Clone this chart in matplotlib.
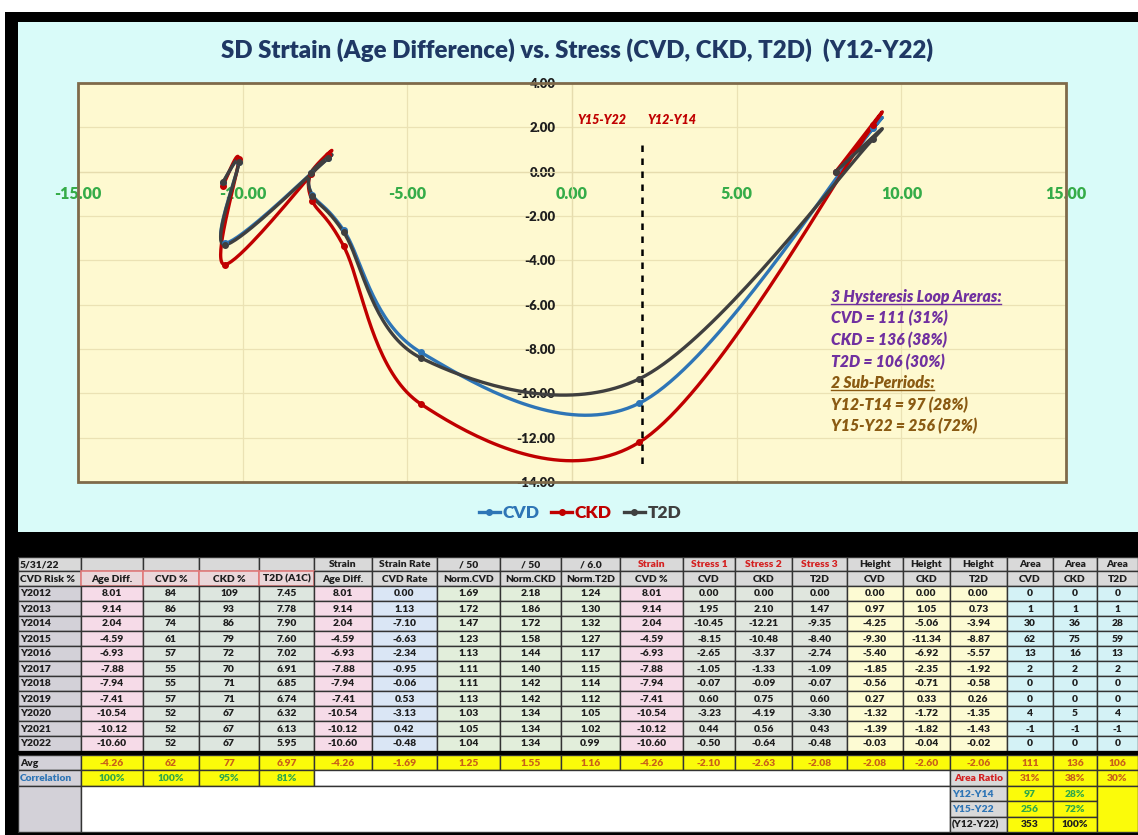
import numpy as np
import matplotlib
matplotlib.use("Agg")
import matplotlib.pyplot as plt
from matplotlib.patches import Rectangle
from matplotlib.lines import Line2D
from matplotlib.ticker import FormatStrFormatter

# ---------------- data ----------------
years = ['Y2012', 'Y2013', 'Y2014', 'Y2015', 'Y2016', 'Y2017',
         'Y2018', 'Y2019', 'Y2020', 'Y2021', 'Y2022']
age_diff = [8.01, 9.14, 2.04, -4.59, -6.93, -7.88, -7.94, -7.41, -10.54, -10.12, -10.60]
cvd_pct = [84, 86, 74, 61, 57, 55, 55, 57, 52, 52, 52]
ckd_pct = [109, 93, 86, 79, 72, 70, 71, 71, 67, 67, 67]
t2d_a1c = [7.45, 7.78, 7.90, 7.60, 7.02, 6.91, 6.85, 6.74, 6.32, 6.13, 5.95]
strain_rate = [0.00, 1.13, -7.10, -6.63, -2.34, -0.95, -0.06, 0.53, -3.13, 0.42, -0.48]
norm_cvd = [1.69, 1.72, 1.47, 1.23, 1.13, 1.11, 1.11, 1.13, 1.03, 1.05, 1.04]
norm_ckd = [2.18, 1.86, 1.72, 1.58, 1.44, 1.40, 1.42, 1.42, 1.34, 1.34, 1.34]
norm_t2d = [1.24, 1.30, 1.32, 1.27, 1.17, 1.15, 1.14, 1.12, 1.05, 1.02, 0.99]
stress_cvd = [0.00, 1.95, -10.45, -8.15, -2.65, -1.05, -0.07, 0.60, -3.23, 0.44, -0.50]
stress_ckd = [0.00, 2.10, -12.21, -10.48, -3.37, -1.33, -0.09, 0.75, -4.19, 0.56, -0.64]
stress_t2d = [0.00, 1.47, -9.35, -8.40, -2.74, -1.09, -0.07, 0.60, -3.30, 0.43, -0.48]
height_cvd = [0.00, 0.97, -4.25, -9.30, -5.40, -1.85, -0.56, 0.27, -1.32, -1.39, -0.03]
height_ckd = [0.00, 1.05, -5.06, -11.34, -6.92, -2.35, -0.71, 0.33, -1.72, -1.82, -0.04]
height_t2d = [0.00, 0.73, -3.94, -8.87, -5.57, -1.92, -0.58, 0.26, -1.35, -1.43, -0.02]
area_cvd = [0, 1, 30, 62, 13, 2, 0, 0, 4, -1, 0]
area_ckd = [0, 1, 36, 75, 16, 2, 0, 0, 5, -1, 0]
area_t2d = [0, 1, 28, 59, 13, 2, 0, 0, 4, -1, 0]

avg_row = ['-4.26', '62', '77', '6.97', '-4.26', '-1.69', '1.25', '1.55', '1.16',
           '-4.26', '-2.10', '-2.63', '-2.08', '-2.08', '-2.60', '-2.06', '111', '136', '106']
corr_row = ['100%', '100%', '95%', '81%']
area_ratio = ['31%', '38%', '30%']
sub_labels = ['Y12-Y14', 'Y15-Y22', '(Y12-Y22)']
sub_areas = ['97', '256', '353']
sub_pcts = ['28%', '72%', '100%']

header1 = ['5/31/22', '', '', '', '', 'Strain', 'Strain Rate', '/ 50', '/ 50', '/ 6.0',
           'Strain', 'Stress 1', 'Stress 2', 'Stress 3', 'Height', 'Height', 'Height',
           'Area', 'Area', 'Area']
header2 = ['CVD Risk %', 'Age Diff.', 'CVD %', 'CKD %', 'T2D (A1C)', 'Age Diff.', 'CVD Rate',
           'Norm.CVD', 'Norm.CKD', 'Norm.T2D', 'CVD %', 'CVD', 'CKD', 'T2D', 'CVD', 'CKD',
           'T2D', 'CVD', 'CKD', 'T2D']

series_names = ['CVD', 'CKD', 'T2D']
series_colors = ['#2e75b6', '#c00000', '#3f3f3f']
x_ticks = [-15, -10, -5, 0, 5, 10, 15]
y_ticks = [-14, -12, -10, -8, -6, -4, -2, 0, 2, 4]
divider_x = 2.12
period_labels = [('Y15-Y22', 0.9), ('Y12-Y14', 3.05)]
note_lines = [('3 Hysteresis Loop Areras:', '#7030a0', True),
              ('CVD = 111 (31%)', '#7030a0', False),
              ('CKD = 136 (38%)', '#7030a0', False),
              ('T2D = 106 (30%)', '#7030a0', False),
              ('2 Sub-Perriods:', '#8a5a12', True),
              ('Y12-T14 = 97 (28%)', '#8a5a12', False),
              ('Y15-Y22 = 256 (72%)', '#8a5a12', False)]

FONT = 'Lato'

# ---------------- figure ----------------
W, H = 1138, 835
fig = plt.figure(figsize=(W / 100, H / 100), dpi=100, facecolor='black')


def fx(x):
    return x / W


def fy(y):
    return 1 - y / H


def frect(x0, y0, x1, y1, color, z=-10):
    fig.add_artist(Rectangle((fx(x0), fy(y1)), fx(x1) - fx(x0), fy(y0) - fy(y1),
                             transform=fig.transFigure, facecolor=color,
                             edgecolor='none', zorder=z))


frect(0, 0, W, 12, 'white')
frect(0, 0, 5, H, 'white')
frect(18, 22, W, 532, '#d9fbf9')

# ---------------- chart ----------------
ax = fig.add_axes([fx(78), fy(482), fx(1066) - fx(78), fy(83) - fy(482)])
ax.set_facecolor('#fef9d0')
ax.set_xlim(-15, 15)
ax.set_ylim(-14, 4)
ax.set_xticks(x_ticks)
ax.set_yticks(y_ticks)
ax.xaxis.set_major_formatter(FormatStrFormatter('%.2f'))
ax.yaxis.set_major_formatter(FormatStrFormatter('%.2f'))
ax.grid(True, color='#ebe2b4', lw=0.9)
ax.set_axisbelow(True)
for s in ['top', 'right']:
    ax.spines[s].set_visible(False)
ax.spines['bottom'].set_position(('data', 0))
ax.spines['left'].set_position(('data', 0))
ax.spines['bottom'].set_color('#e6dcae')
ax.spines['left'].set_color('#e6dcae')
ax.spines['bottom'].set_linewidth(0.9)
ax.spines['left'].set_linewidth(0.9)
ax.tick_params(axis='x', length=0, pad=10, labelsize=11.5, labelcolor='#35ac48')
ax.tick_params(axis='y', length=0, pad=12, labelsize=9.5, labelcolor='#1e1e1e')
for lab in ax.get_xticklabels() + ax.get_yticklabels():
    lab.set_fontfamily(FONT)
    lab.set_fontweight('heavy')
ax.add_patch(Rectangle((0, 0), 1, 1, transform=ax.transAxes, fill=False,
                       edgecolor='#7f6a4a', lw=2.0, zorder=6, clip_on=False))


def smooth(xs, ys, n=40):
    p = np.column_stack([xs, ys]).astype(float)
    out = []
    m = len(p)
    t = np.linspace(0, 1, n)[:, None]
    for i in range(m - 1):
        p0 = p[max(i - 1, 0)]
        p1 = p[i]
        p2 = p[i + 1]
        p3 = p[min(i + 2, m - 1)]
        c1 = p1 + (p2 - p0) / 6
        c2 = p2 - (p3 - p1) / 6
        seg = ((1 - t) ** 3) * p1 + 3 * ((1 - t) ** 2) * t * c1 + 3 * (1 - t) * t ** 2 * c2 + t ** 3 * p2
        out.append(seg if i == 0 else seg[1:])
    out = np.vstack(out)
    return out[:, 0], out[:, 1]


handles = []
for name, ys, col in zip(series_names, [stress_cvd, stress_ckd, stress_t2d], series_colors):
    sx, sy = smooth(age_diff, ys)
    ax.plot(sx, sy, color=col, lw=2.4, solid_capstyle='round', zorder=3)
    ax.plot(age_diff, ys, ls='none', marker='o', ms=4, color=col, zorder=4)
    handles.append(Line2D([], [], color=col, lw=2.4, marker='o', ms=4))

ax.plot([divider_x, divider_x], [1.2, -13.2], color='black', lw=1.8,
        ls=(0, (2.6, 2.6)), zorder=5)
for txt, xpos in period_labels:
    ax.text(xpos, 2.35, txt, color='#c00000', fontsize=9, fontweight='heavy',
            style='italic', family=FONT, ha='center', va='center')

note_texts = []
for i, (txt, col, ul) in enumerate(note_lines):
    t = ax.text(7.85, -5.64 - i * 0.975, txt, color=col, fontsize=11.3,
                fontweight='heavy', style='italic', family=FONT, ha='left',
                va='center', zorder=7)
    note_texts.append((t, col, ul))

fig.suptitle('SD Strtain (Age Difference) vs. Stress (CVD, CKD, T2D)  (Y12-Y22)',
             x=fx(577), y=fy(50), va='center', ha='center', fontsize=17.3,
             fontweight='heavy', family=FONT, color='#1f3864')

fig.legend(handles, series_names, loc='center', bbox_to_anchor=(fx(580), fy(513)),
           ncol=3, frameon=False, labelcolor='linecolor', handlelength=1.2,
           handletextpad=0.15, columnspacing=0.7,
           prop={'family': FONT, 'weight': 'heavy', 'size': 12.5})

# ---------------- table ----------------
col_edges = [18, 81, 143, 199, 259, 314, 372, 437, 500, 561, 620, 683, 735, 792,
             847, 903, 950, 1007, 1053, 1097, 1138]
tab = fig.add_axes([fx(18), fy(833), fx(1138) - fx(18), fy(557) - fy(833)])
tab.set_xlim(18, 1138)
tab.set_ylim(833, 557)
tab.axis('off')

EDGE = '#333333'
GRAY = '#d9d9d9'
LAB = '#d3d1d8'
PINK = '#f6dbe8'
GRN = '#dde6df'
BLU = '#dae6f5'
NGR = '#e2eedb'
SGR = '#e0e6de'
YLW = '#fdfbd3'
CYN = '#d4f2f6'
YEL = '#fbfb0a'
DARK = '#1e1e1e'
ORG = '#c8601a'
GTX = '#2fa84a'
BTX = '#2e75b6'
RTX = '#d42020'


def cell(c0, c1, y0, y1, fill, text='', color=DARK, ha='center', edge=EDGE, lw=1.0, fs=7.4):
    x0, x1 = col_edges[c0], col_edges[c1]
    tab.add_patch(Rectangle((x0, y0), x1 - x0, y1 - y0, facecolor=fill,
                            edgecolor=edge, lw=lw))
    if text:
        tx = x0 + 2 if ha == 'left' else (x0 + x1) / 2
        tab.text(tx, (y0 + y1) / 2 + 0.5, text, ha=ha, va='center', fontsize=fs,
                 fontweight='heavy', family=FONT, color=color)


# header rows
for c in range(20):
    col = RTX if 10 <= c <= 13 else DARK
    cell(c, c + 1, 557, 571, GRAY, header1[c], col, 'left' if c == 0 else 'center')
for c in range(20):
    if 1 <= c <= 4:
        cell(c, c + 1, 571, 586, '#ead7da', header2[c], DARK, edge='#e07a7a', lw=1.2)
    else:
        cell(c, c + 1, 571, 586, GRAY, header2[c], DARK, 'left' if c == 0 else 'center')

fills = [LAB, PINK, GRN, GRN, GRN, PINK, BLU, NGR, NGR, NGR, PINK, SGR, SGR, SGR,
         YLW, YLW, YLW, CYN, CYN, CYN]
f2 = lambda v: f'{v:.2f}'
fi = lambda v: f'{v:d}'
columns = [(age_diff, f2), (cvd_pct, fi), (ckd_pct, fi), (t2d_a1c, f2), (age_diff, f2),
           (strain_rate, f2), (norm_cvd, f2), (norm_ckd, f2), (norm_t2d, f2),
           (age_diff, f2), (stress_cvd, f2), (stress_ckd, f2), (stress_t2d, f2),
           (height_cvd, f2), (height_ckd, f2), (height_t2d, f2),
           (area_cvd, fi), (area_ckd, fi), (area_t2d, fi)]
row_h = 15
for r, yr in enumerate(years):
    y0 = 586 + r * row_h
    cell(0, 1, y0, y0 + row_h, LAB, yr, DARK, 'left')
    for c, (vals, fmt) in enumerate(columns, start=1):
        cell(c, c + 1, y0, y0 + row_h, fills[c], fmt(vals[r]))

# Avg row
cell(0, 1, 755, 770, LAB, 'Avg', DARK, 'left')
for c, v in enumerate(avg_row, start=1):
    cell(c, c + 1, 755, 770, YEL, v, ORG)

# Correlation / Area ratio row
cell(0, 1, 770, 786, LAB, 'Correlation', BTX, 'left')
for c, v in enumerate(corr_row, start=1):
    cell(c, c + 1, 770, 786, YEL, v, GTX)
cell(5, 16, 770, 786, 'white')
cell(16, 17, 770, 786, GRAY, 'Area Ratio', RTX)
for c, v in enumerate(area_ratio, start=17):
    cell(c, c + 1, 770, 786, YEL, v, ORG)

# sub-period rows
cell(0, 1, 786, 832, LAB)
cell(1, 16, 786, 832, 'white')
sub_colors = [BTX, BTX, DARK]
val_colors = [GTX, GTX, DARK]
for i in range(3):
    y0 = 786 + i * 15.3
    y1 = y0 + 15.3
    cell(16, 17, y0, y1, GRAY, sub_labels[i], sub_colors[i], 'left')
    cell(17, 18, y0, y1, YEL, sub_areas[i], val_colors[i])
    cell(18, 19, y0, y1, YEL, sub_pcts[i], val_colors[i])
cell(19, 20, 786, 832, YEL)

# thick black separator between data and Avg
tab.add_patch(Rectangle((18, 751), 1120, 4, facecolor='black', edgecolor='none'))

# underline the headings of the note block
fig.canvas.draw()
inv = fig.transFigure.inverted()
for t, col, ul in note_texts:
    if ul:
        bb = t.get_window_extent()
        (a, b) = inv.transform((bb.x0, bb.y0 + 1))
        (c_, d) = inv.transform((bb.x1, bb.y0 + 1))
        fig.add_artist(Line2D([a, c_], [b, d], color=col, lw=1.0,
                              transform=fig.transFigure, zorder=8))

fig.savefig('out.png', dpi=100, facecolor=fig.get_facecolor())
